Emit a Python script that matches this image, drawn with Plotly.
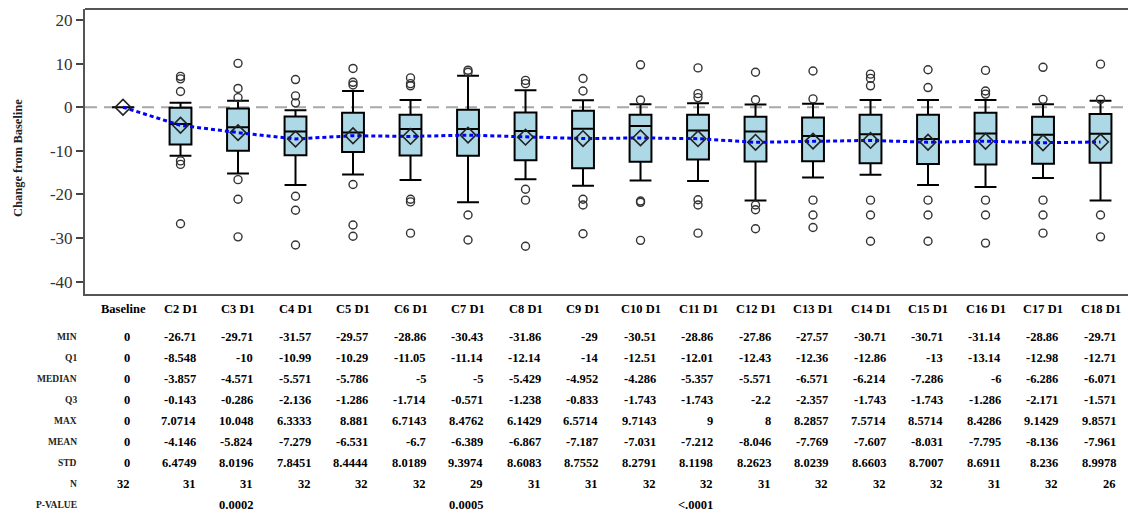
import plotly.graph_objects as go

# ---------------- data ----------------
visits = ["Baseline", "C2 D1", "C3 D1", "C4 D1", "C5 D1", "C6 D1", "C7 D1", "C8 D1", "C9 D1",
          "C10 D1", "C11 D1", "C12 D1", "C13 D1", "C14 D1", "C15 D1", "C16 D1", "C17 D1", "C18 D1"]
mins = [0, -26.71, -29.71, -31.57, -29.57, -28.86, -30.43, -31.86, -29, -30.51, -28.86, -27.86,
        -27.57, -30.71, -30.71, -31.14, -28.86, -29.71]
q1s = [0, -8.548, -10, -10.99, -10.29, -11.05, -11.14, -12.14, -14, -12.51, -12.01, -12.43,
       -12.36, -12.86, -13, -13.14, -12.98, -12.71]
medians = [0, -3.857, -4.571, -5.571, -5.786, -5, -5, -5.429, -4.952, -4.286, -5.357, -5.571,
           -6.571, -6.214, -7.286, -6, -6.286, -6.071]
q3s = [0, -0.143, -0.286, -2.136, -1.286, -1.714, -0.571, -1.238, -0.833, -1.743, -1.743, -2.2,
       -2.357, -1.743, -1.743, -1.286, -2.171, -1.571]
maxs = [0, 7.0714, 10.048, 6.3333, 8.881, 6.7143, 8.4762, 6.1429, 6.5714, 9.7143, 9, 8,
        8.2857, 7.5714, 8.5714, 8.4286, 9.1429, 9.8571]
means = [0, -4.146, -5.824, -7.279, -6.531, -6.7, -6.389, -6.867, -7.187, -7.031, -7.212, -8.046,
         -7.769, -7.607, -8.031, -7.795, -8.136, -7.961]
stds = [0, 6.4749, 8.0196, 7.8451, 8.4444, 8.0189, 9.3974, 8.6083, 8.7552, 8.2791, 8.1198, 8.2623,
        8.0239, 8.6603, 8.7007, 8.6911, 8.236, 8.9978]
ns = [32, 31, 31, 32, 32, 32, 29, 31, 31, 32, 32, 31, 32, 32, 32, 31, 32, 26]
pvalues = ["", "", "0.0002", "", "", "", "0.0005", "", "", "", "<.0001", "", "", "", "", "", "", ""]

# whisker ends
whisker_low = [0, -11.1, -15.2, -17.8, -15.4, -16.7, -21.8, -16.5, -18.0, -16.8, -16.9, -21.4,
               -16.1, -15.5, -17.8, -18.3, -16.2, -21.4]
whisker_high = [0, 1.0, 1.5, -0.7, 3.7, 1.65, 7.2, 3.9, 1.6, 0.7, 0.9, 0.6,
                0.8, 1.65, 1.65, 1.65, 0.7, 1.5]

# outliers per visit
outliers = [
    [],
    [7.07, 6.5, 3.6, -12.3, -13.1, -26.71],
    [10.05, 4.3, 2.2, -16.6, -21.1, -29.71],
    [6.33, 2.6, 1.0, -20.4, -23.6, -31.57],
    [8.88, 5.7, 5.1, -17.7, -27.0, -29.57],
    [6.71, 5.4, 4.9, -21.1, -21.7, -28.86],
    [8.48, 8.0, -24.7, -30.43],
    [6.14, 5.4, -18.8, -21.3, -31.86],
    [6.57, 3.7, -21.1, -22.4, -29.0],
    [9.71, 1.65, -21.5, -21.8, -30.51],
    [9.0, 3.1, 2.2, -21.2, -22.4, -28.86],
    [8.0, 1.7, -22.4, -23.5, -27.86],
    [8.29, 1.9, -21.3, -24.7, -27.57],
    [7.57, 6.6, 4.9, -21.3, -24.7, -30.71],
    [8.57, 4.5, -21.3, -24.7, -30.71],
    [8.43, 3.7, 3.0, -21.3, -24.7, -31.14],
    [9.14, 1.8, -21.3, -24.7, -28.86],
    [9.86, 1.8, -24.7, -29.71],
]

row_labels = ["MIN", "Q1", "MEDIAN", "Q3", "MAX", "MEAN", "STD", "N", "P-VALUE"]
y_ticks = [-40, -30, -20, -10, 0, 10, 20]
y_tick_labels = ["-40", "-30", "-20", "-10", "0", "10", "20"]

# ---------------- layout constants ----------------
W, H = 1128, 514
M_L, M_R, M_T, M_B = 85, 0, 9, 220
PLOT_H = H - M_T - M_B
SERIF = "Liberation Serif, Times New Roman, serif"


def fmt(v):
    return format(v, ".5g")


fig = go.Figure()

# boxes
fig.add_trace(go.Box(
    x=visits, q1=q1s, median=medians, q3=q3s,
    lowerfence=whisker_low, upperfence=whisker_high,
    width=0.38, whiskerwidth=1,
    fillcolor="#ADD8E6", line=dict(color="black", width=2),
    boxpoints=False, showlegend=False, hoverinfo="skip",
))

# mean line
fig.add_trace(go.Scatter(
    x=visits, y=means, mode="lines",
    line=dict(color="#0000FF", width=3, dash="4px,3px"),
    showlegend=False, hoverinfo="skip",
))

# mean diamonds
fig.add_trace(go.Scatter(
    x=visits, y=means, mode="markers",
    marker=dict(symbol="diamond-open", size=12, color="#222", line=dict(width=1.6, color="#222")),
    showlegend=False, hoverinfo="skip",
))

# outliers
ox, oy = [], []
for v, outs in zip(visits, outliers):
    for o in outs:
        ox.append(v)
        oy.append(o)
fig.add_trace(go.Scatter(
    x=ox, y=oy, mode="markers",
    marker=dict(symbol="circle-open", size=8, color="#333", line=dict(width=1.4, color="#333")),
    showlegend=False, hoverinfo="skip",
))

# reference line at 0 and top frame line
fig.add_shape(type="line", xref="paper", x0=0, x1=1, yref="y", y0=0, y1=0,
              line=dict(color="#A8A8A8", width=2, dash="12px,7px"), layer="below")
fig.add_shape(type="line", xref="paper", x0=0, x1=1, yref="paper", y0=1, y1=1,
              line=dict(color="#555", width=2))

# ---------------- table ----------------
def paper_y(ypix):
    return (H - M_B - ypix) / PLOT_H


HEADER_Y = 309
ROW0_Y = 336.7
ROW_STEP = 21.05

anns = []
for v in visits:
    anns.append(dict(x=v, xref="x", y=paper_y(HEADER_Y), yref="paper", text="<b>%s</b>" % v,
                     showarrow=False, xanchor="center", yanchor="middle",
                     font=dict(family=SERIF, size=12.5, color="black")))

rows = [
    [fmt(v) for v in mins],
    [fmt(v) for v in q1s],
    [fmt(v) for v in medians],
    [fmt(v) for v in q3s],
    [fmt(v) for v in maxs],
    [fmt(v) for v in means],
    [fmt(v) for v in stds],
    [str(v) for v in ns],
    pvalues,
]

for ri, (lab, vals) in enumerate(zip(row_labels, rows)):
    yp = paper_y(ROW0_Y + ri * ROW_STEP)
    anns.append(dict(x=(79 - M_L) / (W - M_L - M_R), xref="paper", y=yp, yref="paper",
                     text="<b>%s</b>" % lab, showarrow=False, xanchor="right", yanchor="middle",
                     font=dict(family=SERIF, size=9.5, color="#222")))

for ci, v in enumerate(visits):
    col = [r[ci] for r in rows]
    maxchars = max(len(s) for s in col)
    shift = max(0.5 * maxchars * 5.7, 9)
    for ri, vals in enumerate(rows):
        s = vals[ci]
        if not s:
            continue
        anns.append(dict(x=v, xref="x", y=paper_y(ROW0_Y + ri * ROW_STEP), yref="paper",
                         text="<b>%s</b>" % s, showarrow=False, xanchor="right", yanchor="middle",
                         xshift=shift,
                         font=dict(family=SERIF, size=12.5, color="black")))

# y-axis title
anns.append(dict(x=(18 - M_L) / (W - M_L - M_R), xref="paper", y=paper_y(158), yref="paper",
                 text="<b>Change from Baseline</b>", textangle=-90, showarrow=False,
                 xanchor="center", yanchor="middle",
                 font=dict(family=SERIF, size=12.5, color="#222")))

fig.update_layout(
    width=W, height=H,
    margin=dict(l=M_L, r=M_R, t=M_T, b=M_B),
    paper_bgcolor="white", plot_bgcolor="white",
    showlegend=False,
    annotations=anns,
    xaxis=dict(type="category", categoryorder="array", categoryarray=visits,
               range=[-0.661, 17.478], showticklabels=False, ticks="",
               showgrid=False, zeroline=False, showline=True, linecolor="#555", linewidth=2),
    yaxis=dict(range=[-42.8, 22.5], tickvals=y_ticks, ticktext=y_tick_labels,
               ticks="outside", ticklen=7,
               tickwidth=1.5, tickcolor="#444", showgrid=False, zeroline=False,
               showline=True, linecolor="#555", linewidth=2,
               tickfont=dict(family="Liberation Serif", size=17, color="#333")),
)

fig.write_html("out.html")
